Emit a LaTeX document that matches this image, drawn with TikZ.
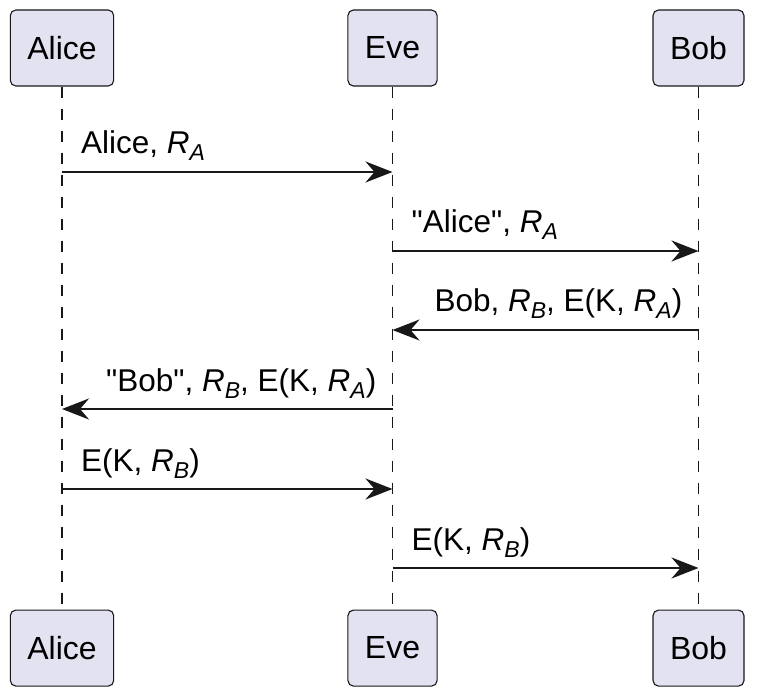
\documentclass[tikz,border=0pt]{standalone}
\usepackage{fontspec}
\setmainfont{Liberation Sans}[Ligatures=TeXOff]
\usetikzlibrary{arrows.meta,positioning}
\definecolor{boxfill}{HTML}{E2E2F0}
\definecolor{linecol}{HTML}{181818}
\newcommand{\Rsub}[1]{\textit{R}\raisebox{-7pt}{\fontsize{23}{23}\selectfont\itshape #1}}

\begin{document}
\begin{tikzpicture}[x=1pt,y=1pt,
	part/.style={draw=linecol,fill=boxfill,rounded corners=5.5pt,line width=1.1pt,inner xsep=17pt,minimum height=76pt,font=\fontsize{32}{38}\selectfont},
	life/.style={draw=linecol,line width=1.1pt,dash pattern=on 11pt off 11pt},
	msg/.style={draw=linecol,line width=2.4pt,-{Stealth[length=27pt,width=21pt,inset=9pt]}},
	lblr/.style={pos=0,anchor=base west,inner sep=0pt,xshift=18pt,yshift=18pt,font=\fontsize{31.5}{36}\selectfont},
	lbll/.style={pos=0,anchor=base east,inner sep=0pt,xshift=-15pt,yshift=18pt,font=\fontsize{31.5}{36}\selectfont}]
	\useasboundingbox (0,0) rectangle (757,697);
	\node[part](alice) at (62,649){Alice};
	\node[part](eve) at (392.5,649){Eve};
	\node[part](bob) at (698.5,649){Bob};
	\node[part](aliceb)[below = 523pt of alice]{Alice};
	\node[part](eveb)[below = 523pt of eve]{Eve};
	\node[part](bobb)[below = 523pt of bob]{Bob};
	\draw[life](alice) -- (aliceb);
	\draw[life](eve) -- (eveb);
	\draw[life](bob) -- (bobb);
	\coordinate (m1) at (0,525);
	\coordinate (m2) at (0,446);
	\coordinate (m3) at (0,367);
	\coordinate (m4) at (0,288);
	\coordinate (m5) at (0,208);
	\coordinate (m6) at (0,129);
	\draw[msg](alice |- m1) -- node[lblr]{Alice, \Rsub{A}} (eve |- m1);
	\draw[msg](eve |- m2) -- node[lblr]{"Alice", \Rsub{A}} (bob |- m2);
	\draw[msg](bob |- m3) -- node[lbll]{Bob, \Rsub{B}, E(K, \Rsub{A})} (eve |- m3);
	\draw[msg](eve |- m4) -- node[lbll]{"Bob", \Rsub{B}, E(K, \Rsub{A})} (alice |- m4);
	\draw[msg](alice |- m5) -- node[lblr]{E(K, \Rsub{B})} (eve |- m5);
	\draw[msg](eve |- m6) -- node[lblr]{E(K, \Rsub{B})} (bob |- m6);
\end{tikzpicture}
\end{document}
